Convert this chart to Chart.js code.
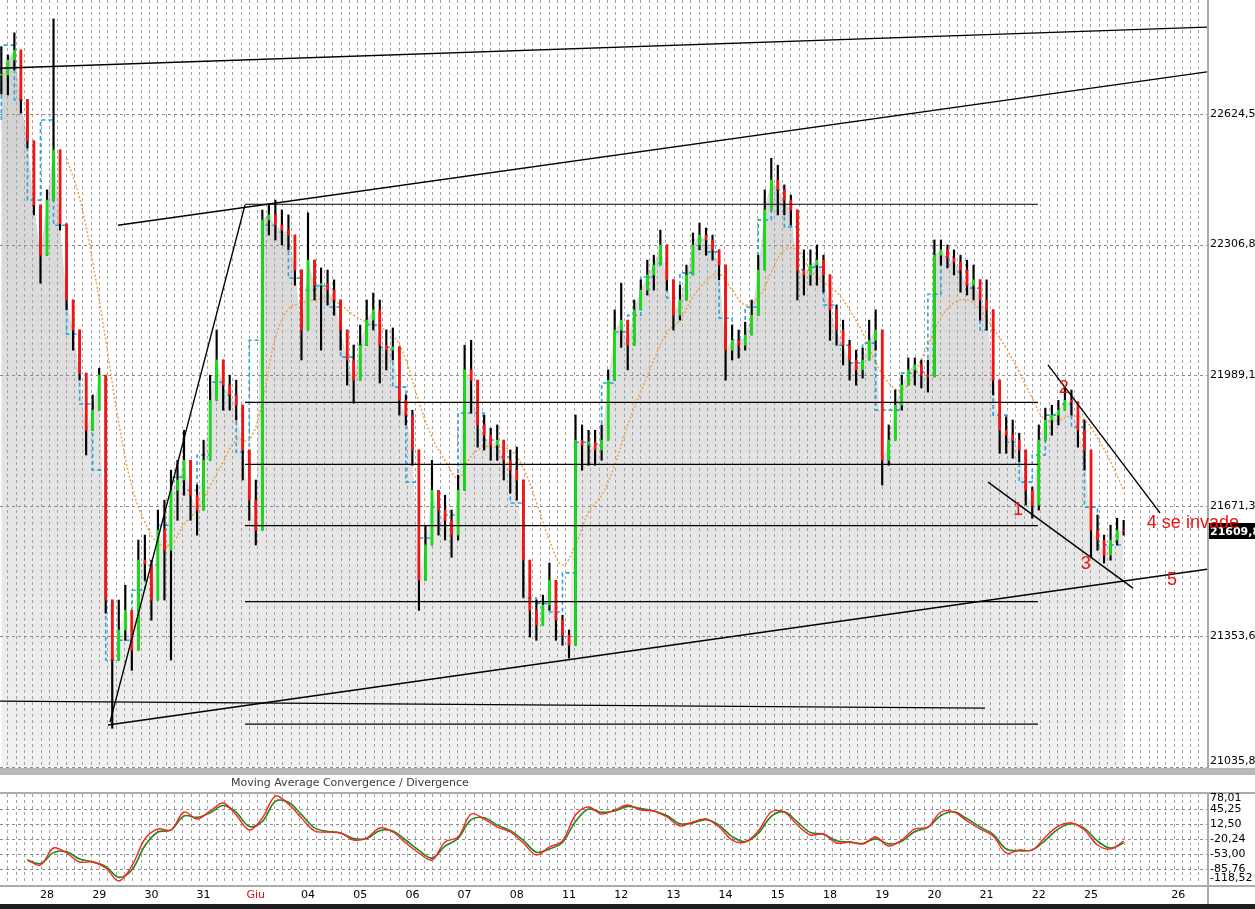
<!DOCTYPE html>
<html lang="it">
<head>
    <meta charset="UTF-8">
    <title>FTSE MIB - MACD</title>
    <script src="https://cdn.jsdelivr.net/npm/chart.js"></script>
    <style>
        html, body {
            margin: 0;
            padding: 0;
            background: #ffffff;
        }

        body {
            width: 1255px;
            height: 909px;
            overflow: hidden;
            position: relative;
        }

        /* price panel */
        #priceBox {
            position: absolute;
            left: 0;
            top: 0;
        }

        /* grey bar between the panels */
        #splitter {
            position: absolute;
            left: 0;
            top: 768px;
            width: 1255px;
            height: 7px;
            background: #b6bab6;
        }

        #macdBox {
            position: absolute;
            left: 0;
            top: 775px;
        }

        #footer {
            position: absolute;
            left: 0;
            top: 904px;
            width: 1255px;
            height: 5px;
            background: #1f1f1f;
        }
    </style>
</head>
<body>

    <canvas id="priceBox" width="1255" height="768"></canvas>
    <div id="splitter"></div>
    <canvas id="macdBox" width="1255" height="129"></canvas>
    <div id="footer"></div>

    <script>
        // ---- data (8 bars per trading day, day 0 = 28 May) ----
        const BAR_START = -0.875;
        const BAR_STEP = 0.125;

        const closes = [
            22719, 22756, 22780, 22659, 22559, 22403, 22281, 22415, 22537, 22357,
            22172, 22099, 21994, 21855, 21904, 21989, 21442, 21296, 21369, 21417,
            21320, 21539, 21530, 21442, 21612, 21563, 21709, 21734, 21782, 21697,
            21661, 21782, 21928, 22026, 21965, 21941, 21916, 21807, 21685, 21612,
            22367, 22379, 22354, 22342, 22330, 22245, 22099, 22269, 22208, 22212,
            22196, 22172, 22099, 22026, 21977, 22062, 22123, 22148, 22062, 22050,
            22058, 21928, 21892, 21807, 21490, 21576, 21709, 21661, 21636, 21600,
            21709, 22002, 21977, 21868, 21843, 21819, 21831, 21782, 21758, 21734,
            21539, 21417, 21381, 21430, 21490, 21393, 21357, 21332, 21831, 21819,
            21826, 21807, 21831, 21977, 22099, 22123, 22062, 22148, 22196, 22233,
            22257, 22306, 22221, 22135, 22172, 22233, 22306, 22330, 22318, 22294,
            22257, 22050, 22074, 22062, 22087, 22135, 22245, 22391, 22464, 22440,
            22415, 22391, 22245, 22233, 22257, 22269, 22233, 22148, 22099, 22062,
            22026, 22002, 22026, 22074, 22099, 21782, 21831, 21916, 21965, 22002,
            22014, 21989, 21985, 22281, 22294, 22274, 22264, 22245, 22208, 22221,
            22172, 22148, 21977, 21855, 21843, 21831, 21807, 21709, 21673, 21831,
            21880, 21892, 21904, 21928, 21924, 21855, 21807, 21612, 21588, 21551,
            21588, 21612, 21609.8
        ];

        const highs = [
            22788, 22768, 22822, 22744, 22598, 22500, 22330, 22440, 22856, 22440,
            22245, 22148, 22062, 21928, 21941, 22006, 21661, 21393, 21442, 21478,
            21369, 21588, 21600, 21539, 21661, 21685, 21758, 21782, 21855, 21770,
            21722, 21831, 21989, 22099, 22002, 21989, 21977, 21855, 21758, 21734,
            22391, 22403, 22415, 22391, 22379, 22330, 22172, 22384, 22269, 22250,
            22245, 22221, 22148, 22099, 22062, 22111, 22172, 22189, 22172, 22099,
            22104, 21989, 21941, 21904, 21685, 21624, 21782, 21709, 21697, 21661,
            21746, 22062, 22074, 21928, 21892, 21860, 21868, 21819, 21807, 21814,
            21661, 21466, 21442, 21454, 21532, 21442, 21405, 21369, 21892, 21868,
            21855, 21855, 21868, 22002, 22148, 22213, 22123, 22172, 22221, 22269,
            22281, 22342, 22294, 22172, 22208, 22257, 22335, 22359, 22347, 22330,
            22294, 22233, 22111, 22099, 22118, 22172, 22281, 22440, 22517, 22500,
            22452, 22427, 22379, 22294, 22294, 22306, 22281, 22233, 22160, 22123,
            22074, 22050, 22055, 22123, 22148, 22026, 21868, 21953, 21989, 22031,
            22031, 22026, 22026, 22318, 22318, 22306, 22294, 22281, 22269, 22257,
            22221, 22221, 22099, 21928, 21887, 21880, 21848, 21770, 21717, 21868,
            21909, 21916, 21928, 21960, 21953, 21916, 21880, 21758, 21649, 21600,
            21624, 21641, 21636
        ];

        const lows = [
            22673, 22671, 22732, 22627, 22542, 22379, 22213, 22306, 22522, 22342,
            22148, 22050, 21977, 21795, 21855, 21941, 21410, 21130, 21296, 21344,
            21271, 21442, 21490, 21393, 21490, 21442, 21296, 21636, 21697, 21636,
            21600, 21685, 21855, 21965, 21904, 21904, 21880, 21734, 21636, 21576,
            22221, 22330, 22318, 22306, 22294, 22208, 22026, 22172, 22172, 22050,
            22160, 22135, 22050, 21965, 21921, 22014, 22074, 22099, 21970, 22002,
            22026, 21892, 21868, 21770, 21417, 21503, 21649, 21600, 21588, 21546,
            21588, 21880, 21897, 21814, 21807, 21782, 21782, 21734, 21702, 21685,
            21449, 21352, 21344, 21381, 21417, 21344, 21332, 21301, 21734, 21758,
            21770, 21770, 21782, 21831, 22002, 22057, 22002, 22099, 22148, 22184,
            22196, 22269, 22196, 22099, 22123, 22172, 22269, 22294, 22281, 22269,
            22221, 21977, 22026, 22031, 22050, 22087, 22172, 22281, 22415, 22379,
            22379, 22354, 22172, 22184, 22208, 22208, 22191, 22074, 22062, 22014,
            21977, 21965, 21982, 22026, 22050, 21722, 21770, 21855, 21904, 21965,
            21965, 21958, 21948, 22196, 22257, 22250, 22233, 22191, 22184, 22172,
            22123, 22099, 21941, 21799, 21799, 21787, 21778, 21673, 21641, 21661,
            21831, 21843, 21868, 21904, 21892, 21814, 21758, 21546, 21563, 21532,
            21539, 21576, 21600
        ];

        // slow average (orange), every 2nd bar from bar 10
        const SLOW_FIRST = 10;
        const slowAvg = [
            22517, 22420, 22264, 22074, 21873, 21719, 21632, 21580, 21578, 21627,
            21661, 21719, 21778, 21831, 21831, 21924, 22079, 22150, 22165, 22172,
            22177, 22160, 22135, 22118, 22106, 22087, 22026, 21924, 21838, 21782,
            21739, 21792, 21814, 21814, 21807, 21763, 21680, 21588, 21527, 21576,
            21656, 21697, 21770, 21868, 21948, 22026, 22092, 22123, 22179, 22218,
            22235, 22196, 22160, 22177, 22240, 22294, 22294, 22245, 22216, 22191,
            22148, 22092, 22021, 21970, 21953, 21997, 22062, 22128, 22165, 22172,
            22148, 22104, 22055, 21997, 21933, 21880, 21880, 21890, 21880, 21836,
            21778, 21709
        ];

        // fast stepped average (blue dashed), every 2nd bar from bar 0
        const FAST_FIRST = 0;
        const fastAvg = [
            22610, 22792, 22659, 22415, 22610, 22354, 22089, 21919, 21758, 21296,
            21344, 21466, 21527, 21624, 21741, 21709, 21795, 21972, 21941, 21802,
            22074, 22354, 22337, 22225, 22196, 22206, 22155, 22033, 22062, 22111,
            22057, 21960, 21729, 21593, 21668, 21649, 21897, 21897, 21831, 21790,
            21678, 21447, 21434, 21413, 21508, 21826, 21821, 21970, 22094, 22135,
            22228, 22262, 22177, 22238, 22318, 22289, 22128, 22074, 22155, 22367,
            22440, 22350, 22245, 22252, 22160, 22062, 22019, 22067, 21904, 21904,
            21994, 21997, 22186, 22277, 22240, 22201, 22099, 21892, 21826, 21729,
            21795, 21892, 21919, 21863, 21668, 21576, 21576
        ];

        // MACD panel, every 2nd bar from bar 4
        const MACD_FIRST = 4;
        const macdLine = [
            -66.1, -77.0, -39.9, -50.8, -70.5, -70.5, -83.6, -112.0, -79.2, -20.3,
            1.6, -0.6, 38.7, 23.4, 40.9, 58.4, 32.1, -0.6, 25.6, 73.6,
            56.2, 25.6, -2.8, -5.0, -7.2, -22.5, -18.1, 3.8, -5.0, -29.0,
            -50.8, -66.1, -26.8, -15.9, 34.3, 23.4, 5.9, -5.0, -29.0, -55.2,
            -37.7, -24.6, 32.1, 49.6, 34.3, 43.1, 54.0, 43.1, 40.9, 27.8,
            8.1, 16.9, 23.4, 5.9, -22.5, -26.8, -2.8, 38.7, 38.7, 10.3,
            -11.5, -9.3, -29.0, -26.8, -31.2, -15.9, -35.6, -22.5, 1.6, 5.9,
            38.7, 38.7, 19.0, 1.6, -13.7, -50.8, -44.3, -44.3, -15.9, 8.1,
            14.7, -0.6, -33.4, -42.1, -24.6
        ];
        const signalLine = [
            -66, -74, -50, -48, -64, -70, -80, -104, -88, -35,
            -5, -1, 30, 27, 37, 53, 38, 7, 18, 62,
            60, 33, 4, -4, -7, -19, -19, -2, -3, -23,
            -45, -62, -36, -19, 22, 26, 10, -2, -23, -49,
            -42, -28, 18, 45, 38, 41, 51, 46, 41, 31,
            13, 15, 22, 10, -15, -26, -8, 29, 39, 17,
            -6, -10, -24, -27, -30, -20, -31, -25, -4, 5,
            31, 39, 24, 6, -10, -42, -46, -44, -23, 2,
            13, 3, -25, -40, -29
        ];

        // axes
        const priceTicks = [22624.5, 22306.8, 21989.1, 21671.3, 21353.6, 21035.8];
        const macdTicks = [78.01, 45.25, 12.50, -20.24, -53.00, -85.76, -118.52];
        const dayLabels = ['28', '29', '30', '31', 'Giu', '04', '05', '06', '07', '08', '11',
            '12', '13', '14', '15', '18', '19', '20', '21', '22', '25', '26'];
        const dayPositions = [0, 1, 2, 3, 4, 5, 6, 7, 8, 9, 10,
            11, 12, 13, 14, 15, 16, 17, 18, 19, 20, 21.67];
        const lastPrice = 21609.8;

        // drawings: [day1, price1, day2, price2]
        const trendLines = [
            [-0.900, 22736, 22.222, 22836],
            [1.360, 22354, 22.222, 22727],
            [1.169, 21138, 22.222, 21517],
            [-0.900, 21196, 17.970, 21179],
            [1.207, 21145, 3.793, 22403],
            [19.176, 22014, 21.322, 21654],
            [18.027, 21729, 20.805, 21471]
        ];
        const levelStart = 3.793;
        const levelEnd = 18.985;
        const levelPrices = [22405, 21923, 21772, 21623, 21438, 21140];

        const waveLabels = [
            { t: 18.60, p: 21661, text: '1', align: 'center' },
            { t: 19.48, p: 21958, text: '2', align: 'center' },
            { t: 19.90, p: 21529, text: '3', align: 'center' },
            { t: 21.07, p: 21629, text: '4 se invade', align: 'left' },
            { t: 21.55, p: 21490, text: '5', align: 'center' }
        ];

        // ---- view ----
        const X_MIN = -0.9004;
        const X_MAX = 22.2222;
        const GRID_STEP_PX = 8.33;
        const GRID_OFFSET_PX = 7.3;
        const LABEL_FONT = '11px "DejaVu Sans", Verdana, sans-serif';
        const UP = '#12e012';
        const DOWN = '#ff1010';

        const barTime = k => BAR_START + k * BAR_STEP;
        const points = (vals, first, step) => vals.map((v, i) => ({ x: barTime(first + i * step), y: v }));
        const opens = closes.map((c, k) => k ? closes[k - 1] : c);
        const fmt = (v, d) => v.toFixed(d).replace('.', ',');

        function drawVerticalDots(chart) {
            const { ctx, chartArea: a } = chart;
            ctx.save();
            ctx.strokeStyle = '#a2a2a2';
            ctx.lineWidth = 1;
            ctx.setLineDash([3, 3]);
            for (let x = a.left + GRID_OFFSET_PX; x < a.right; x += GRID_STEP_PX) {
                const px = Math.round(x) + 0.5;
                ctx.beginPath();
                ctx.moveTo(px, a.top);
                ctx.lineTo(px, a.bottom);
                ctx.stroke();
            }
            ctx.restore();
        }

        function drawHorizontalDashes(chart, ticks) {
            const { ctx, chartArea: a, scales } = chart;
            ctx.save();
            ctx.strokeStyle = '#8c8c8c';
            ctx.lineWidth = 1;
            ctx.setLineDash([3, 3]);
            ticks.forEach(v => {
                const py = Math.round(scales.y.getPixelForValue(v)) + 0.5;
                ctx.beginPath();
                ctx.moveTo(a.left, py);
                ctx.lineTo(a.right, py);
                ctx.stroke();
            });
            ctx.restore();
        }

        function drawRightLabels(chart, ticks, digits) {
            const { ctx, chartArea: a, scales } = chart;
            ctx.save();
            ctx.font = LABEL_FONT;
            ctx.fillStyle = '#000';
            ctx.textBaseline = 'middle';
            ctx.textAlign = 'left';
            ticks.forEach(v => {
                let py = scales.y.getPixelForValue(v);
                py = Math.min(Math.max(py, a.top + 4), a.bottom - 6);
                ctx.fillText(fmt(v, digits), a.right + 3, py);
            });
            ctx.restore();
        }

        // ---- price panel ----
        const priceDecor = {
            id: 'priceDecor',
            afterDatasetDraw(chart, args) {
                if (args.index === 0) {
                    drawVerticalDots(chart);
                    drawHorizontalDashes(chart, priceTicks);
                }
            },
            afterDraw(chart) {
                const { ctx, chartArea: a, scales } = chart;
                ctx.save();
                ctx.fillStyle = '#ababab';
                ctx.fillRect(a.right, 0, 2, chart.height);
                ctx.restore();

                drawRightLabels(chart, priceTicks, 1);

                // last price box
                const py = scales.y.getPixelForValue(lastPrice);
                ctx.save();
                ctx.fillStyle = '#000';
                ctx.fillRect(a.right + 2, Math.round(py) - 8, chart.width - a.right - 2, 16);
                ctx.font = 'bold ' + LABEL_FONT;
                ctx.fillStyle = '#fff';
                ctx.textBaseline = 'middle';
                ctx.fillText(fmt(lastPrice, 1), a.right + 3, py + 1);
                ctx.restore();

                // wave count
                ctx.save();
                ctx.font = '18px "Liberation Sans", Arial, sans-serif';
                ctx.fillStyle = '#ee1111';
                ctx.textBaseline = 'middle';
                waveLabels.forEach(w => {
                    ctx.textAlign = w.align;
                    ctx.fillText(w.text, scales.x.getPixelForValue(w.t), scales.y.getPixelForValue(w.p));
                });
                ctx.restore();
            }
        };

        const grayFill = context => {
            const { chart } = context;
            const a = chart.chartArea;
            if (!a) return '#dddddd';
            const g = chart.ctx.createLinearGradient(0, a.top, 0, a.bottom);
            g.addColorStop(0, '#cdcdcd');
            g.addColorStop(1, '#f1f1f1');
            return g;
        };

        const lineSets = trendLines.map(s => ({
            type: 'line',
            data: [{ x: s[0], y: s[1] }, { x: s[2], y: s[3] }],
            borderColor: '#000',
            borderWidth: 1.4,
            pointRadius: 0,
            order: 1
        })).concat(levelPrices.map(p => ({
            type: 'line',
            data: [{ x: levelStart, y: p }, { x: levelEnd, y: p }],
            borderColor: '#000',
            borderWidth: 1.2,
            pointRadius: 0,
            order: 1
        })));

        new Chart(document.getElementById('priceBox'), {
            type: 'line',
            data: {
                datasets: [
                    {
                        data: points(closes, 0, 1),
                        fill: 'start',
                        backgroundColor: grayFill,
                        borderColor: 'rgba(0,0,0,0)',
                        borderWidth: 0,
                        pointRadius: 0,
                        order: 10
                    },
                    {
                        data: points(slowAvg, SLOW_FIRST, 2),
                        borderColor: '#f2a04c',
                        borderWidth: 1.5,
                        borderDash: [2, 2],
                        pointRadius: 0,
                        tension: 0.4,
                        order: 9
                    },
                    {
                        data: points(fastAvg, FAST_FIRST, 2),
                        borderColor: '#2aa4e0',
                        borderWidth: 1.6,
                        borderDash: [4, 3],
                        stepped: 'after',
                        pointRadius: 0,
                        order: 8
                    },
                    {
                        type: 'bar',
                        data: closes.map((c, k) => ({
                            x: barTime(k),
                            y: [Math.min(lows[k], opens[k], c), Math.max(highs[k], opens[k], c)]
                        })),
                        backgroundColor: '#000',
                        barThickness: 1.5,
                        grouped: false,
                        order: 7
                    },
                    {
                        type: 'bar',
                        data: closes.map((c, k) => ({ x: barTime(k), y: [opens[k], c] })),
                        backgroundColor: closes.map((c, k) => c >= opens[k] ? UP : DOWN),
                        barThickness: 2,
                        minBarLength: 1,
                        grouped: false,
                        order: 6
                    }
                ].concat(lineSets)
            },
            options: {
                responsive: false,
                animation: false,
                events: [],
                layout: { padding: { left: 0, right: 48, top: 0, bottom: 1 } },
                scales: {
                    x: { type: 'linear', display: false, min: X_MIN, max: X_MAX, offset: false },
                    y: { type: 'linear', display: false, min: 21035.8, max: 22901.9 }
                },
                plugins: {
                    legend: { display: false },
                    tooltip: { enabled: false }
                }
            },
            plugins: [priceDecor]
        });

        // ---- MACD panel ----
        const macdDecor = {
            id: 'macdDecor',
            beforeDatasetsDraw(chart) {
                drawVerticalDots(chart);
                drawHorizontalDashes(chart, macdTicks.slice(1, -1));
            },
            afterDraw(chart) {
                const { ctx, chartArea: a, scales } = chart;
                ctx.save();
                ctx.fillStyle = '#ababab';
                ctx.fillRect(0, a.top - 2, chart.width, 2);
                ctx.fillRect(0, a.bottom + 1, chart.width, 2);
                ctx.fillRect(a.right, a.top - 2, 2, chart.height - a.top + 2);

                ctx.font = LABEL_FONT;
                ctx.fillStyle = '#3a3a3a';
                ctx.textBaseline = 'middle';
                ctx.fillText('Moving Average Convergence / Divergence', 231, 8);

                ctx.textAlign = 'center';
                dayLabels.forEach((d, i) => {
                    ctx.fillStyle = d === 'Giu' ? '#e01010' : '#000';
                    ctx.fillText(d, scales.x.getPixelForValue(dayPositions[i]), a.bottom + 11);
                });
                ctx.restore();

                drawRightLabels(chart, macdTicks, 2);
            }
        };

        new Chart(document.getElementById('macdBox'), {
            type: 'line',
            data: {
                datasets: [
                    {
                        data: points(signalLine, MACD_FIRST, 2),
                        borderColor: '#1d8a1d',
                        borderWidth: 1.6,
                        pointRadius: 0,
                        tension: 0.35,
                        order: 2
                    },
                    {
                        data: points(macdLine, MACD_FIRST, 2),
                        borderColor: '#ff2020',
                        borderWidth: 1.4,
                        pointRadius: 0,
                        tension: 0.35,
                        order: 1
                    }
                ]
            },
            options: {
                responsive: false,
                animation: false,
                events: [],
                layout: { padding: { left: 0, right: 48, top: 19, bottom: 20 } },
                scales: {
                    x: { type: 'linear', display: false, min: X_MIN, max: X_MAX, offset: false },
                    y: { type: 'linear', display: false, min: -118.52, max: 78.01 }
                },
                plugins: {
                    legend: { display: false },
                    tooltip: { enabled: false }
                }
            },
            plugins: [macdDecor]
        });
    </script>
</body>
</html>
